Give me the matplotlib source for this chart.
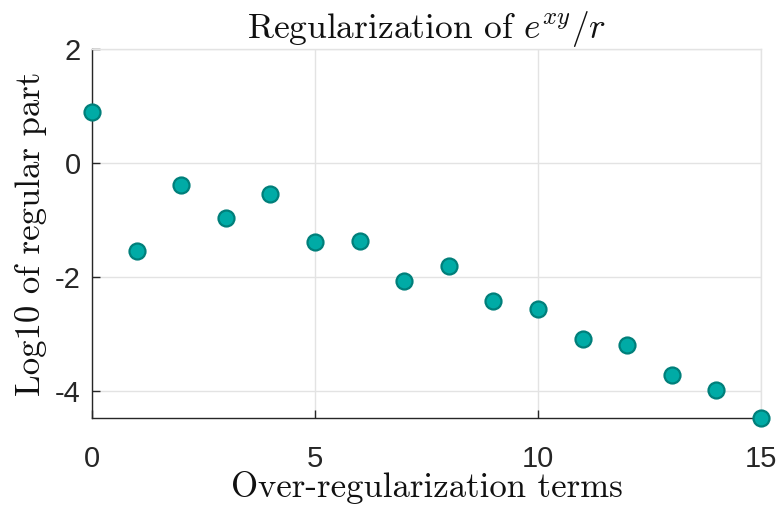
import matplotlib
matplotlib.use("Agg")
import matplotlib.pyplot as plt

# Over-regularization term count and log10 of the regular part
terms = list(range(16))
log_regular = [0.89, -1.54, -0.385, -0.96, -0.55, -1.38, -1.36, -2.07,
               -1.81, -2.41, -2.56, -3.09, -3.19, -3.72, -3.98, -4.47]
xticks = [0, 5, 10, 15]
yticks = [-4, -2, 0, 2]

plt.rcParams['mathtext.fontset'] = 'cm'

fig = plt.figure(figsize=(7.79, 5.05), dpi=100)
ax = fig.add_axes([0.118, 0.172, 0.859, 0.731])

grid_c = '#e3e3e3'
axis_c = '#262626'

ax.plot(terms, log_regular, linestyle='none', marker='o', markersize=11.5,
        markerfacecolor='#00aba6', markeredgecolor='#007f7a', markeredgewidth=1.6,
        clip_on=False, zorder=3)

ax.set_xlim(0, 15)
ax.set_ylim(min(log_regular), 2)
ax.set_xticks(xticks)
ax.set_yticks(yticks)
ax.set_xticklabels([str(v) for v in xticks])
ax.set_yticklabels([str(v) for v in yticks])
ax.grid(True, color=grid_c, linewidth=1.0)
ax.set_axisbelow(True)

for s in ['top', 'right']:
    ax.spines[s].set_color(grid_c)
    ax.spines[s].set_linewidth(1.0)
for s in ['left', 'bottom']:
    ax.spines[s].set_color(axis_c)
    ax.spines[s].set_linewidth(1.0)

ax.tick_params(direction='in', length=6, width=1.0, color=axis_c,
               labelcolor=axis_c, labelsize=21)
ax.tick_params(axis='x', pad=19)
ax.tick_params(axis='y', pad=8)
for lab in ax.get_xticklabels() + ax.get_yticklabels():
    lab.set_fontfamily('Liberation Sans')

ax.set_title(r'Regularization of $e^{xy}/r$', fontfamily='cmr10',
             fontsize=25.5, color='#111111', pad=7)
ax.set_xlabel('Over-regularization terms', fontfamily='cmr10',
              fontsize=25, color='#111111', labelpad=-1)
ax.set_ylabel('Log10 of regular part', fontfamily='cmr10',
              fontsize=25, color='#111111', labelpad=6)

fig.savefig('out.png', dpi=100, facecolor='white')
